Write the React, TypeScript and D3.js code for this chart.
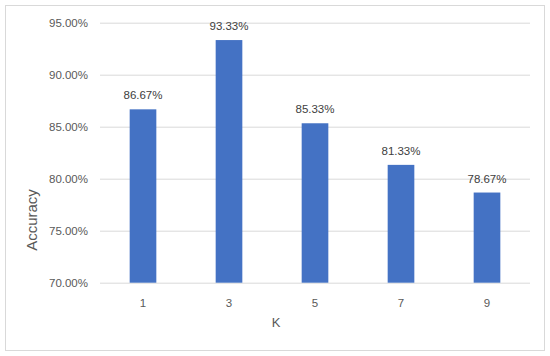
import { useRef, useEffect } from 'react';
import * as d3 from 'd3';

// K values and accuracy (%)
const kValues = ['1', '3', '5', '7', '9'];
const accuracy = [86.67, 93.33, 85.33, 81.33, 78.67];
const yTicks = [70, 75, 80, 85, 90, 95];

const W = 550;
const H = 356;
const FONT = 'Liberation Sans, Arial, sans-serif';

export default function App() {
  const svgRef = useRef<SVGSVGElement | null>(null);

  useEffect(() => {
    const svg = d3.select(svgRef.current);
    svg.selectAll('*').remove();

    const margin = { top: 22.7, right: 20, bottom: 73.3, left: 100 };
    const plotW = W - margin.left - margin.right;
    const plotH = H - margin.top - margin.bottom;

    // outer chart frame
    svg.append('rect')
      .attr('x', 5.5).attr('y', 5.5)
      .attr('width', 539).attr('height', 345)
      .attr('fill', '#fff')
      .attr('stroke', '#D9D9D9')
      .attr('stroke-width', 1);

    const x = d3.scaleBand().domain(kValues).range([0, plotW]).paddingInner(0.69).paddingOuter(0.345);
    const y = d3.scaleLinear().domain([70, 95]).range([plotH, 0]);

    const g = svg.append('g').attr('transform', 'translate(' + margin.left + ',' + margin.top + ')');

    // gridlines
    g.selectAll('line.grid')
      .data(yTicks)
      .join('line')
      .attr('class', 'grid')
      .attr('x1', 0).attr('x2', plotW)
      .attr('y1', function (d) { return Math.round(y(d)) + 0.5; })
      .attr('y2', function (d) { return Math.round(y(d)) + 0.5; })
      .attr('stroke', '#D9D9D9')
      .attr('stroke-width', 1);

    // y tick labels
    g.selectAll('text.ytick')
      .data(yTicks)
      .join('text')
      .attr('class', 'ytick')
      .attr('x', -12)
      .attr('y', function (d) { return y(d); })
      .attr('dy', '0.35em')
      .attr('text-anchor', 'end')
      .attr('font-size', '11.5px')
      .attr('fill', '#595959')
      .style('font-family', FONT)
      .text(function (d) { return d.toFixed(2) + '%'; });

    // bars
    g.selectAll('rect.bar')
      .data(accuracy)
      .join('rect')
      .attr('class', 'bar')
      .attr('x', function (d, i) { return x(kValues[i]) as number; })
      .attr('y', function (d) { return y(d); })
      .attr('width', x.bandwidth())
      .attr('height', function (d) { return plotH - y(d); })
      .attr('fill', '#4472C4');

    // value labels
    g.selectAll('text.val')
      .data(accuracy)
      .join('text')
      .attr('class', 'val')
      .attr('x', function (d, i) { return (x(kValues[i]) as number) + x.bandwidth() / 2; })
      .attr('y', function (d) { return y(d) - 10; })
      .attr('text-anchor', 'middle')
      .attr('font-size', '11.5px')
      .attr('fill', '#404040')
      .style('font-family', FONT)
      .text(function (d) { return d.toFixed(2) + '%'; });

    // x tick labels
    g.selectAll('text.xtick')
      .data(kValues)
      .join('text')
      .attr('class', 'xtick')
      .attr('x', function (d) { return (x(d) as number) + x.bandwidth() / 2; })
      .attr('y', plotH + 20)
      .attr('dy', '0.35em')
      .attr('text-anchor', 'middle')
      .attr('font-size', '11.5px')
      .attr('fill', '#595959')
      .style('font-family', FONT)
      .text(function (d) { return d; });

    // axis titles
    svg.append('text')
      .attr('x', 276)
      .attr('y', 322)
      .attr('dy', '0.35em')
      .attr('text-anchor', 'middle')
      .attr('font-size', '13px')
      .attr('fill', '#595959')
      .style('font-family', FONT)
      .text('K');

    svg.append('text')
      .attr('transform', 'translate(32,220) rotate(-90)')
      .attr('dy', '0.35em')
      .attr('text-anchor', 'middle')
      .attr('font-size', '15px')
      .attr('fill', '#595959')
      .style('font-family', FONT)
      .text('Accuracy');
  }, []);

  return (
    <svg
      ref={svgRef}
      width={W}
      height={H}
      style={{ position: 'absolute', left: 0, top: 0, display: 'block' }}
    />
  );
}
